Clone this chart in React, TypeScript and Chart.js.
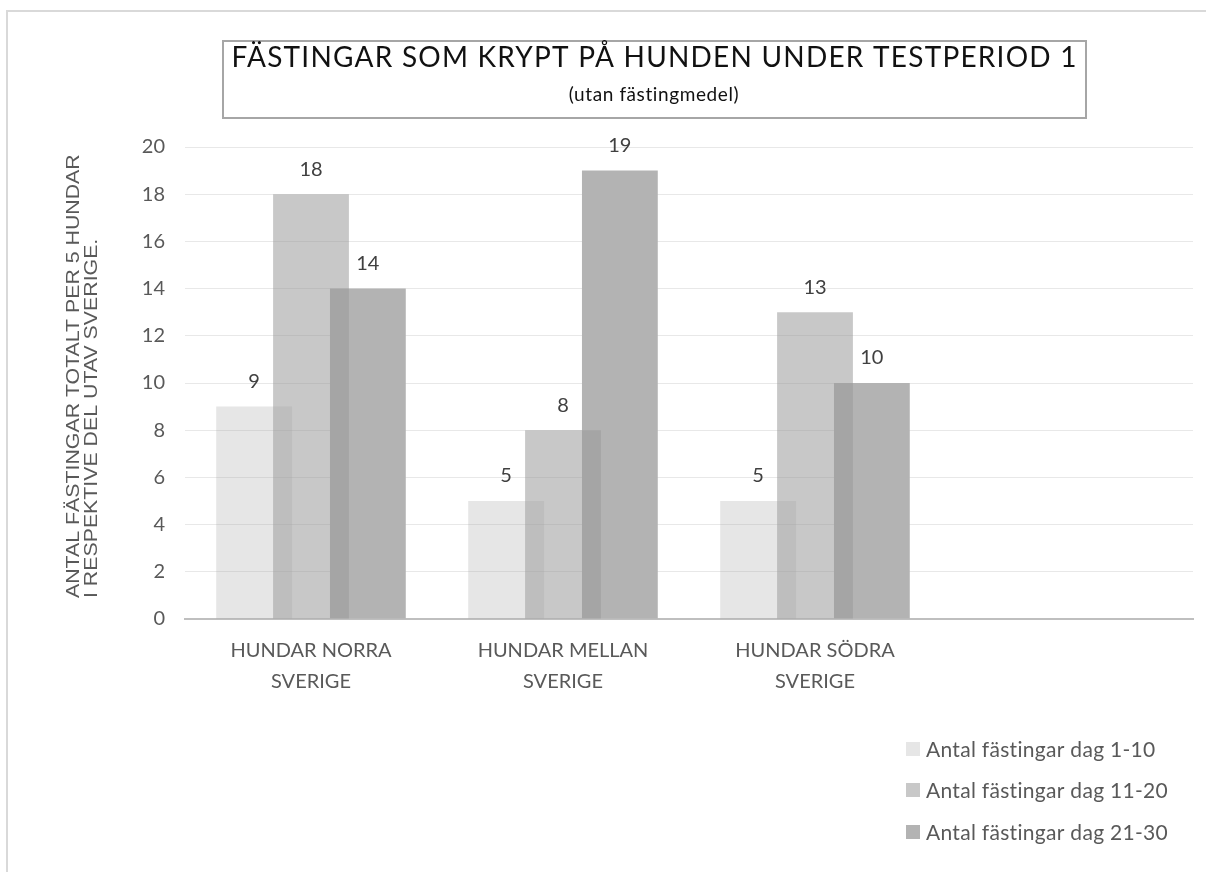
import React, { useEffect, useRef } from 'react';
import { Chart, registerables } from 'chart.js';

Chart.register(...registerables);

// ---- data ----
const categories: (string | string[])[] = [
  ['HUNDAR NORRA', 'SVERIGE'],
  ['HUNDAR MELLAN', 'SVERIGE'],
  ['HUNDAR SÖDRA', 'SVERIGE'],
  '',
];
const seriesNames = [
  'Antal fästingar dag 1-10',
  'Antal fästingar dag 11-20',
  'Antal fästingar dag 21-30',
];
const dag1to10 = [9, 5, 5, null];
const dag11to20 = [18, 8, 13, null];
const dag21to30 = [14, 19, 10, null];
const yMin = 0;
const yMax = 20;
const yStep = 2;
const titleLines = ['FÄSTINGAR SOM KRYPT PÅ HUNDEN UNDER TESTPERIOD 1', '(utan fästingmedel)'];
const yTitleLines = ['ANTAL FÄSTINGAR TOTALT PER 5 HUNDAR', 'I RESPEKTIVE DEL UTAV SVERIGE.'];

// left series is drawn on top by Chart.js, so it is semi-transparent
const seriesColors = ['rgba(163,163,163,0.273)', 'rgba(153,153,153,0.54)', 'rgb(179,179,179)'];

const FONT = 'Lato';

const framePlugin = {
  id: 'frame',
  beforeDraw(chart: any) {
    const ctx = chart.ctx;
    ctx.save();
    ctx.fillStyle = '#ffffff';
    ctx.fillRect(0, 0, chart.width, chart.height);
    ctx.strokeStyle = '#d9d9d9';
    ctx.lineWidth = 2;
    ctx.beginPath();
    ctx.moveTo(7, chart.height);
    ctx.lineTo(7, 11);
    ctx.lineTo(chart.width, 11);
    ctx.stroke();
    ctx.restore();
  },
  afterDraw(chart: any) {
    const ctx = chart.ctx;
    ctx.save();
    // title box
    ctx.strokeStyle = '#a6a6a6';
    ctx.lineWidth = 2;
    ctx.strokeRect(223, 41, 863, 77);
    ctx.fillStyle = '#111111';
    ctx.textAlign = 'center';
    ctx.textBaseline = 'middle';
    ctx.font = `28px ${FONT}`;
    const w0 = ctx.measureText(titleLines[0]).width;
    const ls = Math.max(0, (845 - w0) / (titleLines[0].length - 1));
    (ctx as any).letterSpacing = `${ls}px`;
    ctx.fillText(titleLines[0], 654 + ls / 2, 58);
    (ctx as any).letterSpacing = '0px';
    ctx.font = `19px ${FONT}`;
    (ctx as any).letterSpacing = '0.6px';
    ctx.fillText(titleLines[1], 654, 95);
    (ctx as any).letterSpacing = '0px';

    // y-axis title (rotated)
    ctx.fillStyle = '#595959';
    ctx.font = `21px "Liberation Sans"`;
    ctx.textAlign = 'left';
    const yPos = [74, 92];
    yTitleLines.forEach((line, i) => {
      ctx.save();
      ctx.translate(yPos[i], 598);
      ctx.rotate(-Math.PI / 2);
      ctx.scale(1.015, 0.86);
      ctx.fillText(line, 0, 0);
      ctx.restore();
    });

    // legend
    ctx.font = `21px ${FONT}`;
    ctx.textBaseline = 'middle';
    (ctx as any).letterSpacing = '0.3px';
    const legendY = [749, 790, 832];
    chart.data.datasets.forEach((ds: any, i: number) => {
      ctx.fillStyle = '#ffffff';
      ctx.fillRect(906, legendY[i] - 7, 14, 14);
      ctx.fillStyle = ds.backgroundColor;
      ctx.fillRect(906, legendY[i] - 7, 14, 14);
      ctx.fillStyle = '#595959';
      ctx.fillText(ds.label, 926, legendY[i] + 1);
    });
    (ctx as any).letterSpacing = '0px';
    ctx.restore();
  },
  afterDatasetsDraw(chart: any) {
    const ctx = chart.ctx;
    ctx.save();
    ctx.font = `20px ${FONT}`;
    ctx.fillStyle = '#404040';
    ctx.textAlign = 'center';
    ctx.textBaseline = 'middle';
    chart.data.datasets.forEach((ds: any, i: number) => {
      const meta = chart.getDatasetMeta(i);
      meta.data.forEach((el: any, j: number) => {
        const v = ds.data[j];
        if (v === null || v === undefined) return;
        ctx.fillText(String(v), el.x, el.y - 25);
      });
    });
    ctx.restore();
  },
};

export default function App() {
  const canvasRef = useRef<HTMLCanvasElement | null>(null);

  useEffect(() => {
    if (!canvasRef.current) return;
    const seriesData = [dag1to10, dag11to20, dag21to30];
    const chart = new Chart(canvasRef.current, {
      type: 'bar',
      data: {
        labels: categories,
        datasets: seriesData.map((d, i) => ({
          label: seriesNames[i],
          data: d,
          backgroundColor: seriesColors[i],
          borderWidth: 0,
          categoryPercentage: 0.677,
          barPercentage: 1.333,
        })),
      },
      options: {
        animation: false,
        responsive: true,
        maintainAspectRatio: false,
        layout: { padding: { top: 147, right: 13, left: 0, bottom: 0 } },
        plugins: {
          legend: { display: false },
          title: { display: false },
          tooltip: { enabled: false },
        },
        scales: {
          x: {
            grid: { display: false, drawTicks: false },
            border: { display: true, color: '#bfbfbf', width: 2 },
            ticks: {
              color: '#595959',
              font: { family: FONT, size: 20, lineHeight: 1.55 },
              padding: 16,
              maxRotation: 0,
              autoSkip: false,
            },
            afterFit(scale: any) {
              scale.height = 253;
            },
          },
          y: {
            min: yMin,
            max: yMax,
            grid: { color: '#e8e8e8', lineWidth: 1, drawTicks: false },
            border: { display: false },
            ticks: {
              stepSize: yStep,
              color: '#595959',
              font: { family: FONT, size: 20 },
              padding: 20,
            },
            afterFit(scale: any) {
              scale.width = 185;
            },
          },
        },
      },
      plugins: [framePlugin],
    });
    return () => chart.destroy();
  }, []);

  return (
    <div style={{ position: 'absolute', left: 0, top: 0, width: 1206, height: 872 }}>
      <canvas ref={canvasRef} />
    </div>
  );
}
